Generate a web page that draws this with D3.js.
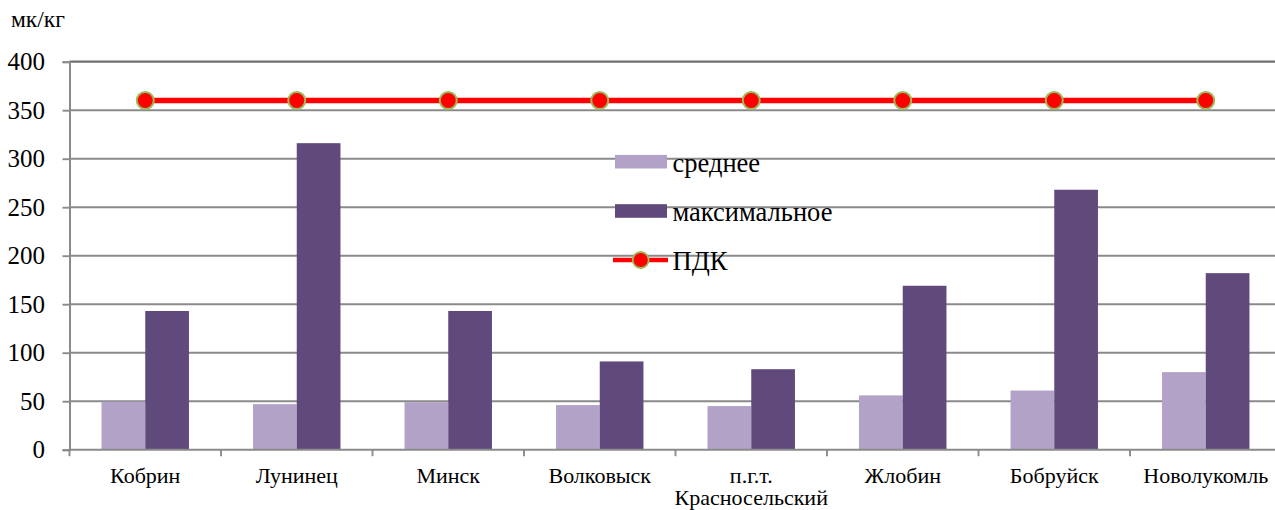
<!DOCTYPE html>
<html>
<head>
<meta charset="utf-8">
<script src="https://cdn.jsdelivr.net/npm/d3@7"></script>
<style>
  html, body { margin: 0; padding: 0; background: #fff; }
  svg { display: block; }
  svg text { font-family: "Liberation Serif", "DejaVu Serif", serif !important; fill: #000; }
</style>
</head>
<body>
<svg id="chart" width="1275" height="510"></svg>
<script>
// Cities (multi-line labels split with "\n")
const categories = ["Кобрин", "Лунинец", "Минск", "Волковыск", "п.г.т.\nКрасносельский", "Жлобин", "Бобруйск", "Новолукомль"];
// Concentration, мк/кг
const meanValues = [49.5, 47, 49, 46, 45, 56, 61, 80];
const maxValues = [143, 316, 143, 91, 83, 169, 268, 182];
const limitValues = [360, 360, 360, 360, 360, 360, 360, 360];
const yTicks = [0, 50, 100, 150, 200, 250, 300, 350, 400];
const seriesNames = ["среднее", "максимальное", "ПДК"];

const colors = { mean: "#b3a2c7", max: "#604a7b", line: "#ff0000", marker: "#ff0000", markerStroke: "#9bbb59" };
const serif = "'Liberation Serif', 'DejaVu Serif', serif";

const svg = d3.select("#chart");
const plotLeft = 69.5, plotRight = 1281.5, plotTop = 61.7, plotBottom = 449.7;

const x = d3.scaleBand().domain(categories).range([plotLeft, plotRight]).paddingInner(0.423).paddingOuter(0.2115);
const xSub = d3.scaleBand().domain(["mean", "max"]).range([0, x.bandwidth()]);
const y = d3.scaleLinear().domain([0, 400]).range([plotBottom, plotTop]);

// horizontal gridlines
svg.append("g").selectAll("line").data(yTicks.filter(d => d > 0)).join("line")
  .attr("x1", plotLeft).attr("x2", 1275)
  .attr("y1", d => y(d)).attr("y2", d => y(d))
  .attr("stroke", d => d === 400 ? "#6e6e6e" : "#8a8a8a")
  .attr("stroke-width", d => d === 400 ? 2.2 : 1.9);

// y axis
const yAxis = svg.append("g").attr("transform", `translate(${plotLeft},0)`)
  .call(d3.axisLeft(y).tickValues(yTicks).tickSize(7).tickPadding(17.5).tickFormat(d3.format("d")))
  .attr("font-family", serif);
yAxis.select(".domain").attr("stroke", "#8a8a8a").attr("stroke-width", 2);
yAxis.selectAll(".tick line").attr("stroke", "#8a8a8a").attr("stroke-width", 1.9);
yAxis.selectAll(".tick text").attr("font-size", 25).style("font-family", serif).attr("fill", "#000");

// bars
const groups = svg.append("g").selectAll("g").data(categories).join("g")
  .attr("transform", d => `translate(${x(d)},0)`);
groups.append("rect")
  .attr("x", xSub("mean")).attr("width", xSub.bandwidth())
  .attr("y", (d, i) => y(meanValues[i])).attr("height", (d, i) => plotBottom - y(meanValues[i]))
  .attr("fill", colors.mean);
groups.append("rect")
  .attr("x", xSub("max")).attr("width", xSub.bandwidth())
  .attr("y", (d, i) => y(maxValues[i])).attr("height", (d, i) => plotBottom - y(maxValues[i]))
  .attr("fill", colors.max);

// x axis
const xAxisG = svg.append("g").attr("transform", `translate(0,${plotBottom})`);
xAxisG.append("line").attr("x1", plotLeft).attr("x2", 1275).attr("y1", 0).attr("y2", 0)
  .attr("stroke", "#8a8a8a").attr("stroke-width", 2);
const boundaries = categories.map(d => x(d) - x.step() * x.paddingOuter()).concat([plotRight]);
xAxisG.selectAll("line.tk").data(boundaries.filter(b => b <= 1275)).join("line").attr("class", "tk")
  .attr("x1", d => d).attr("x2", d => d).attr("y1", 0).attr("y2", 6.5)
  .attr("stroke", "#8a8a8a").attr("stroke-width", 1.9);
xAxisG.selectAll("text").data(categories).join("text")
  .attr("text-anchor", "middle").attr("font-size", 22).style("font-family", serif)
  .each(function (d) {
    const lines = d.split("\n");
    d3.select(this).selectAll("tspan").data(lines).join("tspan")
      .attr("x", x(d) + x.bandwidth() / 2)
      .attr("y", (l, i) => 33.3 + i * 22)
      .text(l => l);
  });

// limit line with markers
const cx = d => x(d) + x.bandwidth() / 2;
svg.append("path")
  .datum(categories)
  .attr("d", d3.line().x(d => cx(d)).y((d, i) => y(limitValues[i])))
  .attr("fill", "none").attr("stroke", colors.line).attr("stroke-width", 5.5);
svg.append("g").selectAll("circle").data(categories).join("circle")
  .attr("cx", d => cx(d)).attr("cy", (d, i) => y(limitValues[i]))
  .attr("r", 8.5).attr("fill", colors.marker).attr("stroke", colors.markerStroke).attr("stroke-width", 2);

// unit label
svg.append("text").attr("x", 11).attr("y", 27).attr("font-size", 23.5).style("font-family", serif).text("мк/кг");

// legend
const legend = svg.append("g");
const legendRows = [161.7, 211, 260];
[0, 1].forEach(i => {
  legend.append("rect").attr("x", 615).attr("y", legendRows[i] - 6.8).attr("width", 52).attr("height", 13.6)
    .attr("fill", i === 0 ? colors.mean : colors.max);
});
legend.append("line").attr("x1", 613).attr("x2", 668).attr("y1", legendRows[2]).attr("y2", legendRows[2])
  .attr("stroke", colors.line).attr("stroke-width", 4.5);
legend.append("circle").attr("cx", 640.7).attr("cy", legendRows[2]).attr("r", 8)
  .attr("fill", colors.marker).attr("stroke", colors.markerStroke).attr("stroke-width", 1.8);
legend.selectAll("text.lg").data(seriesNames).join("text").attr("class", "lg")
  .attr("x", 672.5).attr("y", (d, i) => legendRows[i] + 10)
  .attr("font-size", 26.5).style("font-family", serif).text(d => d);
</script>
</body>
</html>
